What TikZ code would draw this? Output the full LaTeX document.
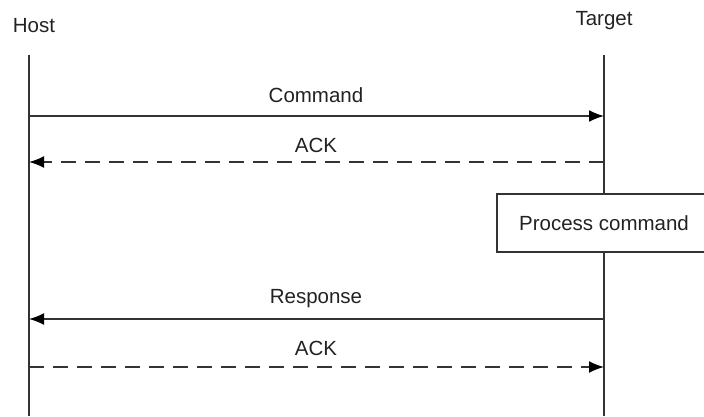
\documentclass[tikz,border=0pt]{standalone}
\usepackage{fontspec}
\setmainfont{Liberation Sans}
\usetikzlibrary{arrows.meta}
\tikzset{>={Latex[length=15pt,width=12pt,color=black]}}
\definecolor{lineclr}{HTML}{333333}
\definecolor{textclr}{HTML}{222222}

\begin{document}
\begin{tikzpicture}[x=1pt, y=-1pt,
    lifeline/.style={line width=1.6pt, lineclr},
    msg/.style={->, line width=1.6pt, lineclr},
    reply/.style={msg, dash pattern=on 15pt off 9pt},
    lbl/.style={font=\fontsize{20.5}{24}\selectfont, text=textclr, inner sep=0pt, anchor=base}]
  \useasboundingbox (0,0) rectangle (704,416);
  % actors
  \node[lbl] (host) at (34,32) {Host};
  \node[lbl] (target) at (604,25) {Target};
  \coordinate (hosttop) at (29,55);
  \coordinate (hostbot) at (29,416);
  \coordinate (targettop) at (604,55);
  \coordinate (targetbot) at (604,416);
  % activity on the target
  \node[draw, lineclr, line width=1.6pt, fill=white, minimum width=214pt, minimum height=58pt,
        text=textclr, font=\fontsize{20.5}{24}\selectfont] (proc) at (604,223) {Process command};
  \draw[lifeline] (hosttop) -- (hostbot);
  \draw[lifeline] (targettop) -- (proc.north);
  \draw[lifeline] (proc.south) -- (targetbot);
  % messages
  \coordinate (cmdh) at (29,116);   \coordinate (cmdt) at (604,116);
  \coordinate (ack1h) at (29,162);  \coordinate (ack1t) at (604,162);
  \coordinate (resph) at (29,319);  \coordinate (respt) at (604,319);
  \coordinate (ack2h) at (29,367);  \coordinate (ack2t) at (604,367);
  \draw[msg] (cmdh) -- (cmdt);
  \node[lbl] (cmdlbl) at (316,102) {Command};
  \draw[reply] (ack1t) -- (ack1h);
  \node[lbl] (ack1lbl) at (316,152) {ACK};
  \draw[msg] (respt) -- (resph);
  \node[lbl] (resplbl) at (316,303) {Response};
  \draw[reply] (ack2h) -- (ack2t);
  \node[lbl] (ack2lbl) at (316,355) {ACK};
\end{tikzpicture}
\end{document}
